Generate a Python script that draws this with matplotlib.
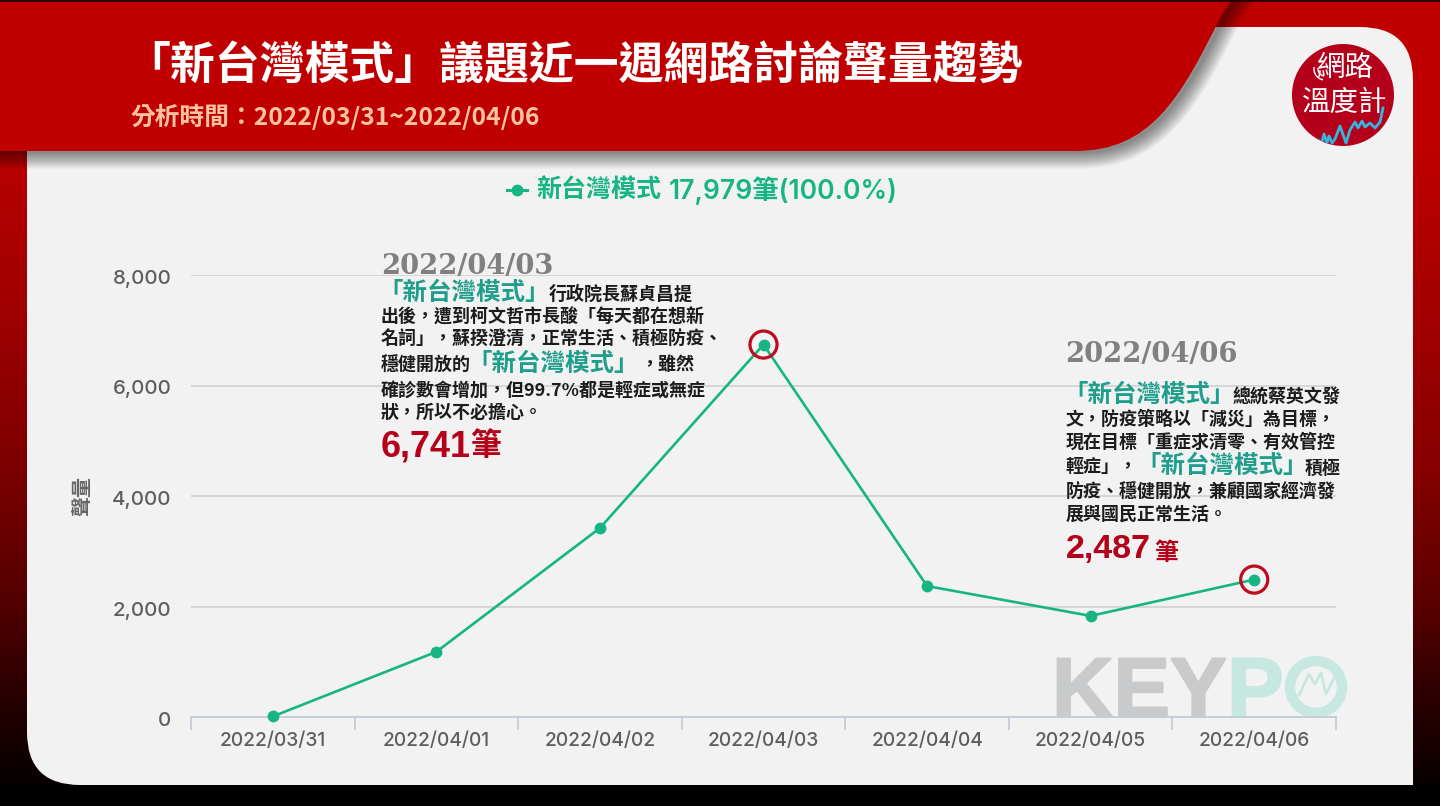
import matplotlib
matplotlib.use("Agg")
import matplotlib.pyplot as plt
import matplotlib.patheffects as pe
import matplotlib.transforms as mtrans
import numpy as np
from matplotlib.path import Path
from matplotlib.patches import PathPatch, Circle, Arc
from matplotlib.ticker import FuncFormatter

W, H = 1440, 806

# chart data
dates = ["2022/03/31", "2022/04/01", "2022/04/02", "2022/04/03", "2022/04/04", "2022/04/05", "2022/04/06"]
counts = [10, 1180, 3420, 6741, 2370, 1830, 2487]
highlight = [3, 6]
y_ticks = [0, 2000, 4000, 6000, 8000]

title = "「新台灣模式」議題近一週網路討論聲量趨勢"
subtitle = "分析時間：2022/03/31~2022/04/06"
legend_name = "新台灣模式"
legend_total = "17,979筆(100.0%)"
topic = "「新台灣模式」"

CJK = ["Noto Sans CJK TC", "DejaVu Sans"]
LATIN = ["Inter", "Noto Sans CJK TC"]
RED = "#c00000"
GREEN = "#16b583"
TEAL = "#1f9e8c"
DARKRED = "#b40019"
INK = "#1c1c1c"


def px(size):
    return size * 0.72


fig = plt.figure(figsize=(W / 100, H / 100), dpi=100, facecolor="black")

# background layer, in pixels
bg = fig.add_axes([0, 0, 1, 1], zorder=0)
bg.axis("off")

ys = np.arange(H)
grad = np.zeros((H, W, 3))
grad[:, :720, 0] = np.interp(ys, [0, 150, 308, 477, 603, 687, 785], [192, 185, 160, 122, 82, 44, 5])[:, None] / 255
grad[:, 720:, 0] = np.interp(ys, [0, 140, 300, 468, 603, 687, 785], [192, 192, 165, 135, 90, 48, 8])[:, None] / 255
bg.imshow(grad, extent=[0, W, H, 0], aspect="auto", zorder=0)
bg.set_xlim(0, W)
bg.set_ylim(H, 0)
bg.add_patch(plt.Rectangle((0, 0), W, 2, color="#300000", lw=0, zorder=6))
bg.add_patch(plt.Rectangle((0, 785), W, 21, color="black", lw=0, zorder=1))

# card with two rounded corners
R = 53
card_v = [(27, 27), (1413 - R, 27), (1413, 27), (1413, 27 + R), (1413, 785), (27 + R, 785), (27, 785), (27, 785 - R), (27, 27), (27, 27)]
card_c = [Path.MOVETO, Path.LINETO, Path.CURVE3, Path.CURVE3, Path.LINETO, Path.LINETO, Path.CURVE3, Path.CURVE3, Path.LINETO, Path.CLOSEPOLY]
card = PathPatch(Path(card_v, card_c), fc="#f2f2f3", ec="none", zorder=2)
bg.add_patch(card)

# banner with its shadow
ban_v = [(0, 0), (1232, 0), (1222, 14), (1180, 100), (1150, 151), (1075, 151), (0, 151), (0, 0)]
ban_c = [Path.MOVETO, Path.LINETO, Path.LINETO, Path.CURVE4, Path.CURVE4, Path.CURVE4, Path.LINETO, Path.CLOSEPOLY]
for lw in range(24, 0, -2):
    sh = Path(np.array(ban_v) + [3, 1], ban_c)
    bg.add_patch(PathPatch(sh, fc="none", ec="black", lw=lw, alpha=0.045, zorder=3))
bg.add_patch(PathPatch(Path(ban_v, ban_c), fc=RED, ec="none", zorder=4))

# KEYPO watermark
thick = lambda c: [pe.withStroke(linewidth=1.5, foreground=c)]
bg.text(1052, 717, "KEY", family="Liberation Sans", weight="bold", fontsize=px(85), color="#c9cacb", va="baseline", zorder=3, path_effects=thick("#c9cacb"))
bg.text(1227, 717, "P", family="Liberation Sans", weight="bold", fontsize=px(85), color="#c6e8e0", va="baseline", zorder=3, path_effects=thick("#c6e8e0"))
bg.add_patch(Circle((1316, 687), 26, fc="none", ec="#c6e8e0", lw=7.5, zorder=3))
bg.plot([1299, 1309, 1315, 1321, 1326, 1334], [695, 674, 684, 673, 694, 678], color="#c6e8e0", lw=2, zorder=3)

# chart axes: 0 at y=717 and 8000 at y=275, categories 191..1336
ax = fig.add_axes([191 / W, 1 - 717 / H, (1336 - 191) / W, (717 - 275) / H], zorder=1)
ax.patch.set_alpha(0)
x = np.arange(len(dates))
ax.plot(x, counts, color=GREEN, lw=1.9, marker="o", ms=7.5, mec=GREEN, clip_on=False, zorder=3)
ax.scatter(x[highlight], np.array(counts)[highlight], s=380, fc="none", ec="#c00a1e", lw=2.3, clip_on=False, zorder=4)
ax.set_xlim(-0.5, len(dates) - 0.5)
ax.set_ylim(0, 8000)
ax.set_yticks(y_ticks)
ax.yaxis.set_major_formatter(FuncFormatter(lambda v, p: f"{int(v):,}"))
ax.set_xticks(x)
ax.set_xticklabels(dates)
ax.set_xticks(np.arange(-0.5, len(dates)), minor=True)
ax.tick_params(axis="x", which="minor", length=9, width=1.3, color="#c3ccd6")
ax.tick_params(axis="x", which="major", length=0, pad=10.5, labelsize=px(19.2), labelcolor="#5e5e5e")
ax.tick_params(axis="y", length=0, pad=14, labelsize=px(20.5), labelcolor="#5e5e5e")
for lab in ax.get_xticklabels() + ax.get_yticklabels():
    lab.set_family(LATIN)
    lab.set_weight("medium")
# y labels sit a little under their grid lines
down = mtrans.ScaledTranslation(0, -2 / 100, fig.dpi_scale_trans)
for lab in ax.get_yticklabels():
    lab.set_transform(lab.get_transform() + down)
ax.grid(axis="y", color="#d6d6d6", lw=1.4)
ax.set_axisbelow(True)
for s in ["top", "left", "right"]:
    ax.spines[s].set_visible(False)
ax.spines["bottom"].set_color("#c3ccd6")
ax.spines["bottom"].set_linewidth(1.3)
ax.set_ylabel("聲量", family=CJK, weight="bold", fontsize=px(20), color="#666666", rotation=90, labelpad=14.5)

# text layer, in pixels
fg = fig.add_axes([0, 0, 1, 1], zorder=2)
fg.set_xlim(0, W)
fg.set_ylim(H, 0)
fg.axis("off")
fg.patch.set_alpha(0)


def put(xp, yp, s, size, color=INK, family=CJK, weight="bold", **kw):
    return fg.text(xp, yp + 3.5, s, fontsize=px(size), color=color, family=family, weight=weight, va="center", **kw)


put(125, 63.5, title, 44.9, "white")
put(131, 113.5, subtitle, 24.7, "#ffc3a2")

fg.plot([507, 527], [190, 190], color=GREEN, lw=2.2)
fg.plot([517], [190], "o", color=GREEN, ms=7.5)
put(536, 187, legend_name, 25, GREEN, family=LATIN, weight="semibold")
put(669, 187, legend_total, 26.4, GREEN, family=LATIN, weight="semibold")

# left note
put(381, 263.5, "2022/04/03", 27.4, "#808080", family="DejaVu Serif")
put(378, 289, topic, 24.5, TEAL)
put(549, 291, "行政院長蘇貞昌提", 18)
put(381, 314, "出後，遭到柯文哲市長酸「每天都在想新", 18)
put(381, 336, "名詞」，蘇揆澄清，正常生活、積極防疫、", 18)
put(381, 362, "穩健開放的", 18)
put(467, 360, topic, 24.5, TEAL)
put(640, 362, "，雖然", 18)
put(381, 387, "確診數會增加，但99.7%都是輕症或無症", 18)
put(381, 409, "狀，所以不必擔心。", 18)
put(381, 443, "6,741", 36, DARKRED, family="Liberation Sans")
put(470, 443, "筆", 31, DARKRED)

# right note
put(1065, 351.5, "2022/04/06", 27.4, "#808080", family="DejaVu Serif")
put(1063, 391, topic, 24.5, TEAL)
put(1233, 394, "總統蔡英文發", 18)
put(1066, 416, "文，防疫策略以「減災」為目標，", 18)
put(1066, 439, "現在目標「重症求清零、有效管控", 18)
put(1066, 464, "輕症」，", 18)
put(1136, 462, topic, 24.5, TEAL)
put(1305, 465, "積極", 18)
put(1066, 489, "防疫、穩健開放，兼顧國家經濟發", 18)
put(1066, 511, "展與國民正常生活。", 18)
put(1066, 546, "2,487", 34, DARKRED, family="Liberation Sans")
put(1154, 549, "筆", 24, DARKRED)

# logo
logo = Circle((1343, 95), 51, fc="#b5001b", ec="none")
fg.add_patch(logo)
zig_x = [1317, 1322, 1324, 1327, 1329, 1332, 1335, 1340, 1346, 1350, 1355, 1358, 1362, 1365, 1370, 1375, 1380, 1383]
zig_y = [140, 142, 134, 143, 136, 143, 139, 126, 143, 130, 122, 128, 121, 127, 123, 128, 122, 108]
zig = fg.plot(zig_x, zig_y, color="#35b6e0", lw=2)[0]
zig.set_clip_path(logo)
put(1345, 64.5, "網路", 28.5, "white", weight="medium", ha="center")
put(1345, 99, "溫度計", 28.5, "white", weight="medium", ha="center")
for d in [14, 22]:
    fg.add_patch(Arc((1325, 69), d, d, theta1=100, theta2=190, color="white", lw=1))

fig.savefig("out.png", dpi=100, facecolor="black")
